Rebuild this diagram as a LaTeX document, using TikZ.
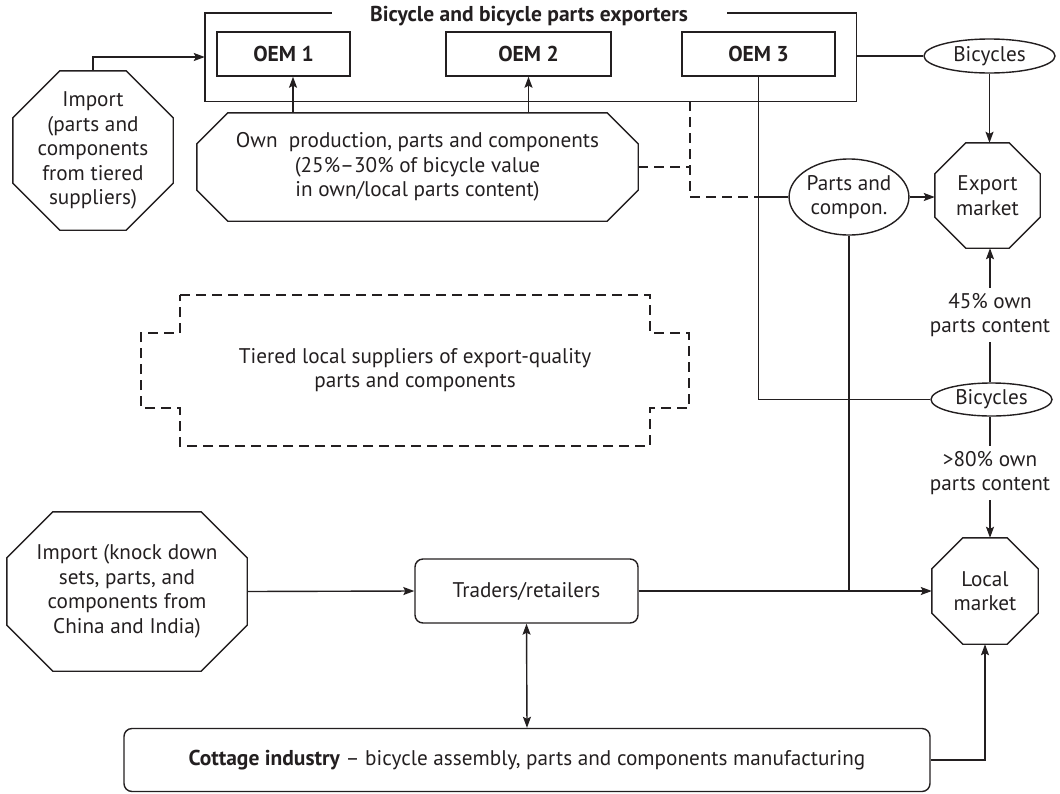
\documentclass[tikz,border=0pt]{standalone}
\usepackage{fontspec}
\setmainfont{PT Sans}
\usetikzlibrary{calc,arrows.meta,shapes.geometric}
\definecolor{ink}{HTML}{231F20}
\tikzset{
  every node/.style={text=ink, font=\fontsize{21.2}{24.5}\selectfont},
  ln/.style={draw=ink, line width=1.4pt},
  tip/.style={},
  arr/.style={ln, -{Stealth[length=11pt,width=8pt,inset=2pt]}},
  dbl/.style={ln, {Stealth[length=11pt,width=8pt,inset=2pt]}-{Stealth[length=11pt,width=8pt,inset=2pt]}},
  dsh/.style={draw=ink, line width=1.2pt, dash pattern=on 10pt off 6pt},
  blk/.style={inner sep=0pt, align=center},
  sq/.style={blk, draw=ink, line width=1.4pt, font=\fontsize{21.5}{24.5}\selectfont\bfseries},
  rnd/.style={blk, draw=ink, line width=1.4pt, rounded corners=8pt},
  ell/.style={blk, draw=ink, line width=1.4pt, ellipse},
}
\newcommand\myocta[2]{\draw[ln] ($(#1.north west)+(#2,0)$) -- ($(#1.north east)+(-#2,0)$) -- ($(#1.north east)+(0,#2)$) -- ($(#1.south east)+(0,-#2)$) -- ($(#1.south east)+(-#2,0)$) -- ($(#1.south west)+(#2,0)$) -- ($(#1.south west)+(0,-#2)$) -- ($(#1.north west)+(0,#2)$) -- cycle;}
\begin{document}
\begin{tikzpicture}[x=1pt,y=-1pt]
\useasboundingbox (0,0) rectangle (1060,793);
% exporters frame
\node[blk, minimum width=651pt, minimum height=88pt] (exp) at (530.5,57) {};
\draw[ln] ($(exp.north west)+(127,0)$) -- (exp.north west) -- (exp.south west) -- (exp.south east) -- (exp.north east) -- ($(exp.north east)+(-129,0)$);
\node[blk, font=\fontsize{21.5}{24}\selectfont\bfseries] (title) at (529,16) {Bicycle and bicycle parts exporters};
\node[sq, minimum width=133pt, minimum height=44pt] (oem1) at (283.5,54) {OEM 1};
\node[sq, minimum width=165pt, minimum height=44pt] (oem2) at (528.5,54) {OEM 2};
\node[sq, minimum width=153pt, minimum height=44pt] (oem3) at (758.5,54) {OEM 3};
% import top-left
\node[blk, minimum width=160pt, minimum height=159pt] (imp1) at (93,150.5) {Import\\(parts and\\components\\from tiered\\suppliers)};
\myocta{imp1}{47}
% own production
\node[blk, minimum width=441pt, minimum height=108pt] (own) at (417.5,167) {Own\ \ production, parts and components\\(25\%–30\% of bicycle value\\in own/local parts content)};
\myocta{own}{31}
% tiered suppliers (dashed)
\node[blk] (tier) at (415,370) {Tiered local suppliers of export-quality\\parts and components};
\draw[dsh] (180,295) -- (650,295) -- (650,333) -- (689,333) -- (689,408) -- (650,408) -- (650,446) -- (180,446) -- (180,408) -- (141,408) -- (141,333) -- (180,333) -- cycle;
% right column
\node[ell, minimum width=131pt, minimum height=34pt] (bic1) at (989.5,56) {Bicycles};
\node[blk, minimum width=105pt, minimum height=105pt] (expm) at (987.5,195.5) {Export\\market};
\myocta{expm}{31}
\node[ell, minimum width=110pt, minimum height=76pt] (parts) at (849,197) {Parts and\\compon.};
\node[blk, inner sep=5pt] (lab45) at (990,315) {45\% own\\parts content};
\node[ell, minimum width=121pt, minimum height=33pt] (bic2) at (991.5,399.5) {Bicycles};
\node[blk, inner sep=5pt] (lab80) at (990,473) {>80\% own\\parts content};
\node[blk, minimum width=106pt, minimum height=106pt] (locm) at (985,591) {Local\\market};
\myocta{locm}{31}
% bottom
\node[blk, minimum width=240pt, minimum height=159pt] (imp2) at (127,591.5) {Import (knock down\\sets, parts, and\\components from\\China and India)};
\myocta{imp2}{46}
\node[rnd, minimum width=223pt, minimum height=64pt] (tr) at (526.5,591) {Traders/retailers};
\node[rnd, minimum width=806pt, minimum height=63pt] (cot) at (527,760) {{\fontsize{21.5}{24}\selectfont\bfseries Cottage industry} – bicycle assembly, parts and components manufacturing};
% coordinates
\coordinate (x1) at (293,0);
\coordinate (dj) at (690,197);
\coordinate (vx) at (990,0);
\coordinate (jn) at (oem3.south |- parts.west);
% connectors
\draw[arr] (imp1.north) |- (exp.west);
\draw[arr] (own.north -| x1) -- (oem1.south -| x1);
\draw[arr] (own.north -| oem2.south) -- (oem2.south);
\draw[dsh] (exp.south -| dj) -- (dj |- jn) -- (jn);
\draw[dsh] (own.east) -- (own.east -| dj);
\draw[ln] (bic1.west -| exp.east) -- (bic1.west);
\draw[arr] (bic1.south) -- (bic1.south |- expm.north);
\draw[ln] (oem3.south) -- (oem3.south |- bic2.west) -- (bic2.west);
\draw[ln] (jn) -- (parts.west);
\draw[arr] (parts.east) -- (parts.east -| expm.west);
\draw[arr] (lab45.north -| vx) -- (expm.south -| vx);
\draw[ln] (bic2.north -| vx) -- (lab45.south -| vx);
\draw[ln] (bic2.south -| vx) -- (lab80.north -| vx);
\draw[arr] (lab80.south -| vx) -- (locm.north -| vx);
\draw[ln] (parts.south) -- (parts.south |- tr.east);
\draw[arr] (imp2.east) -- (tr.west);
\draw[arr] (tr.east) -- (locm.west);
\draw[dbl] (tr.south) -- (cot.north);
\draw[arr] (cot.east) -| (locm.south);
\end{tikzpicture}
\end{document}
